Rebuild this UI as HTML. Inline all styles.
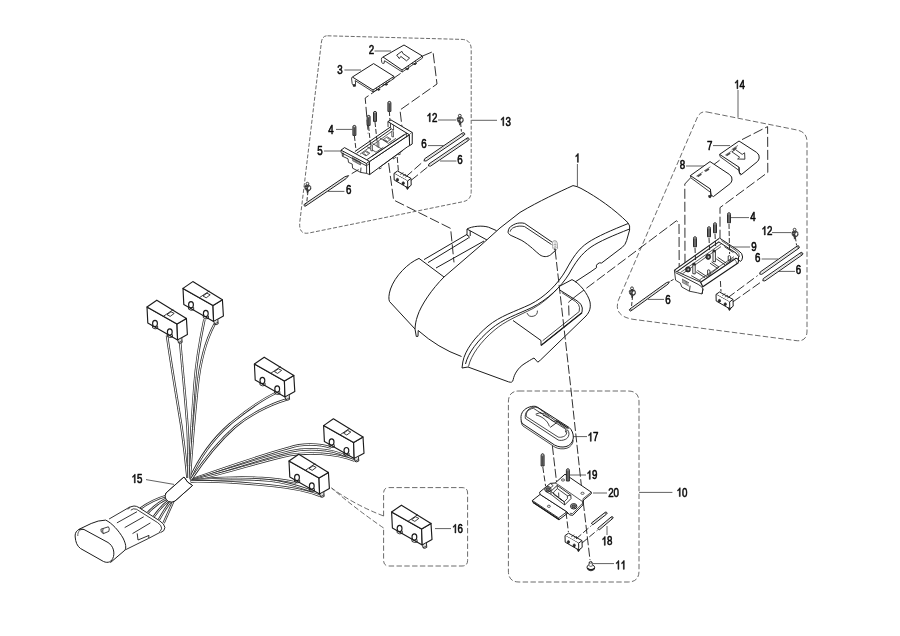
<!DOCTYPE html>
<html><head><meta charset="utf-8"><title>Parts diagram</title>
<style>
html,body{margin:0;padding:0;background:#fff;}
body{width:900px;height:636px;overflow:hidden;font-family:"Liberation Sans",sans-serif;}
svg{display:block;will-change:transform;font-family:"Liberation Sans",sans-serif;}
path{stroke-linejoin:round;}
</style></head><body>
<svg width="900" height="636" viewBox="0 0 900 636">
<rect x="0" y="0" width="900" height="636" fill="#ffffff"/>
<path d="M327.5,35.8 L462,39.4 Q471.2,39.8 471.2,49.4 L471.2,191.6 Q471.2,200 463,201.7 L309,233 Q298.5,235 299.8,222 L321.3,43 Q322,35.6 327.5,35.8Z" fill="none" stroke="#454545" stroke-width="0.8" stroke-dasharray="4 1.8" stroke-linecap="butt"/>
<path d="M707,112 L797,130 Q807,132 807,142 L807,331 Q807,342 796,340.6 L633,319.3 Q613,316 618.5,300 L697.5,117 Q700.5,110.8 707,112Z" fill="none" stroke="#454545" stroke-width="0.8" stroke-dasharray="5.4 2.4" stroke-linecap="butt"/>
<path d="M519,391 L628,391 Q639,391 639,402 L639,571 Q639,582 628,582 L519,582 Q508.4,582 508.4,571 L508.4,402 Q508.4,391 519,391Z" fill="none" stroke="#454545" stroke-width="0.8" stroke-dasharray="5.4 2.4" stroke-linecap="butt"/>
<path d="M383.6,516 L383.6,493 Q383.6,487.6 389,487.6 L462,487.6 Q467.6,487.6 467.6,493 L467.6,560.5 Q467.6,566 462,566 L389,566 Q383.6,566 383.6,560.5 L383.6,528" fill="none" stroke="#454545" stroke-width="0.8" stroke-dasharray="5.4 2.4" stroke-linecap="butt"/>
<path d="M383.6,516 Q355,505 331.5,488" fill="none" stroke="#454545" stroke-width="0.8" stroke-dasharray="5.4 2.4" stroke-linecap="butt"/>
<path d="M383.6,528 Q356,509 331.5,488" fill="none" stroke="#454545" stroke-width="0.8" stroke-dasharray="5.4 2.4" stroke-linecap="butt"/>
<g transform="translate(371.5,53.75) scale(0.8,1)" fill="#0a0a0a" stroke="#0a0a0a" stroke-linejoin="round"><text x="-3.39" y="0" font-size="12.2" stroke-width="0.6">2</text></g>
<path d="M374.5,51L391,51" fill="none" stroke="#3a3a3a" stroke-width="0.8" />
<g transform="translate(340,74.35) scale(0.8,1)" fill="#0a0a0a" stroke="#0a0a0a" stroke-linejoin="round"><text x="-3.39" y="0" font-size="12.2" stroke-width="0.6">3</text></g>
<path d="M344.4,70L361,70" fill="none" stroke="#3a3a3a" stroke-width="0.8" />
<g transform="translate(331,133.75) scale(0.8,1)" fill="#0a0a0a" stroke="#0a0a0a" stroke-linejoin="round"><text x="-3.39" y="0" font-size="12.2" stroke-width="0.6">4</text></g>
<path d="M336,129.4L352.4,129.4" fill="none" stroke="#3a3a3a" stroke-width="0.8" />
<g transform="translate(320,155.35) scale(0.8,1)" fill="#0a0a0a" stroke="#0a0a0a" stroke-linejoin="round"><text x="-3.39" y="0" font-size="12.2" stroke-width="0.6">5</text></g>
<path d="M324,151L341,151" fill="none" stroke="#3a3a3a" stroke-width="0.8" />
<g transform="translate(432,121.75) scale(0.8,1)" fill="#0a0a0a" stroke="#0a0a0a" stroke-linejoin="round"><path transform="translate(-6.78,0) scale(12.2,-12.2)" d="M0.3726,0 L0.2847,0 L0.2847,0.56 Q0.253,0.5298 0.2014,0.4995 Q0.15,0.469 0.109,0.454 L0.109,0.539 Q0.1826,0.5737 0.2378,0.623 Q0.293,0.672 0.316,0.71875 L0.3726,0.71875 Z" stroke-width="0.0492"/><text x="0.00" y="0" font-size="12.2" stroke-width="0.6">2</text></g>
<path d="M438,120L456,120" fill="none" stroke="#3a3a3a" stroke-width="0.8" />
<g transform="translate(424,147.75) scale(0.8,1)" fill="#0a0a0a" stroke="#0a0a0a" stroke-linejoin="round"><text x="-3.39" y="0" font-size="12.2" stroke-width="0.6">6</text></g>
<path d="M428,145.6L443.6,145.6" fill="none" stroke="#3a3a3a" stroke-width="0.8" />
<g transform="translate(460,163.95) scale(0.8,1)" fill="#0a0a0a" stroke="#0a0a0a" stroke-linejoin="round"><text x="-3.39" y="0" font-size="12.2" stroke-width="0.6">6</text></g>
<path d="M440,161L456.4,161" fill="none" stroke="#3a3a3a" stroke-width="0.8" />
<g transform="translate(348.6,194.35) scale(0.8,1)" fill="#0a0a0a" stroke="#0a0a0a" stroke-linejoin="round"><text x="-3.39" y="0" font-size="12.2" stroke-width="0.6">6</text></g>
<path d="M328,191.4L344.4,191.4" fill="none" stroke="#3a3a3a" stroke-width="0.8" />
<g transform="translate(505.5,125.64999999999999) scale(0.8,1)" fill="#0a0a0a" stroke="#0a0a0a" stroke-linejoin="round"><path transform="translate(-6.78,0) scale(12.2,-12.2)" d="M0.3726,0 L0.2847,0 L0.2847,0.56 Q0.253,0.5298 0.2014,0.4995 Q0.15,0.469 0.109,0.454 L0.109,0.539 Q0.1826,0.5737 0.2378,0.623 Q0.293,0.672 0.316,0.71875 L0.3726,0.71875 Z" stroke-width="0.0492"/><text x="0.00" y="0" font-size="12.2" stroke-width="0.6">3</text></g>
<path d="M471.6,120.3L497,120.3" fill="none" stroke="#3a3a3a" stroke-width="0.8" />
<g transform="translate(577.4,162.35) scale(0.8,1)" fill="#0a0a0a" stroke="#0a0a0a" stroke-linejoin="round"><path transform="translate(-3.39,0) scale(12.2,-12.2)" d="M0.3726,0 L0.2847,0 L0.2847,0.56 Q0.253,0.5298 0.2014,0.4995 Q0.15,0.469 0.109,0.454 L0.109,0.539 Q0.1826,0.5737 0.2378,0.623 Q0.293,0.672 0.316,0.71875 L0.3726,0.71875 Z" stroke-width="0.0492"/></g>
<path d="M577.4,164L577.4,186.2" fill="none" stroke="#3a3a3a" stroke-width="0.8" />
<g transform="translate(739.6,88.75) scale(0.8,1)" fill="#0a0a0a" stroke="#0a0a0a" stroke-linejoin="round"><path transform="translate(-6.78,0) scale(12.2,-12.2)" d="M0.3726,0 L0.2847,0 L0.2847,0.56 Q0.253,0.5298 0.2014,0.4995 Q0.15,0.469 0.109,0.454 L0.109,0.539 Q0.1826,0.5737 0.2378,0.623 Q0.293,0.672 0.316,0.71875 L0.3726,0.71875 Z" stroke-width="0.0492"/><text x="0.00" y="0" font-size="12.2" stroke-width="0.6">4</text></g>
<path d="M738,90L738,117.5" fill="none" stroke="#3a3a3a" stroke-width="0.8" />
<g transform="translate(709.6,149.95) scale(0.8,1)" fill="#0a0a0a" stroke="#0a0a0a" stroke-linejoin="round"><text x="-3.39" y="0" font-size="12.2" stroke-width="0.6">7</text></g>
<path d="M713,145.6L730,145.6" fill="none" stroke="#3a3a3a" stroke-width="0.8" />
<g transform="translate(682.4,169.35) scale(0.8,1)" fill="#0a0a0a" stroke="#0a0a0a" stroke-linejoin="round"><text x="-3.39" y="0" font-size="12.2" stroke-width="0.6">8</text></g>
<path d="M686,166L704,166" fill="none" stroke="#3a3a3a" stroke-width="0.8" />
<g transform="translate(753,221.35) scale(0.8,1)" fill="#0a0a0a" stroke="#0a0a0a" stroke-linejoin="round"><text x="-3.39" y="0" font-size="12.2" stroke-width="0.6">4</text></g>
<path d="M731,217.6L749,217.6" fill="none" stroke="#3a3a3a" stroke-width="0.8" />
<g transform="translate(767,234.95) scale(0.8,1)" fill="#0a0a0a" stroke="#0a0a0a" stroke-linejoin="round"><path transform="translate(-6.78,0) scale(12.2,-12.2)" d="M0.3726,0 L0.2847,0 L0.2847,0.56 Q0.253,0.5298 0.2014,0.4995 Q0.15,0.469 0.109,0.454 L0.109,0.539 Q0.1826,0.5737 0.2378,0.623 Q0.293,0.672 0.316,0.71875 L0.3726,0.71875 Z" stroke-width="0.0492"/><text x="0.00" y="0" font-size="12.2" stroke-width="0.6">2</text></g>
<path d="M772,232.6L791,232.6" fill="none" stroke="#3a3a3a" stroke-width="0.8" />
<g transform="translate(754,250.54999999999998) scale(0.8,1)" fill="#0a0a0a" stroke="#0a0a0a" stroke-linejoin="round"><text x="-3.39" y="0" font-size="12.2" stroke-width="0.6">9</text></g>
<path d="M733,247L750,247" fill="none" stroke="#3a3a3a" stroke-width="0.8" />
<g transform="translate(757.6,261.95000000000005) scale(0.8,1)" fill="#0a0a0a" stroke="#0a0a0a" stroke-linejoin="round"><text x="-3.39" y="0" font-size="12.2" stroke-width="0.6">6</text></g>
<path d="M761.6,259L778,259" fill="none" stroke="#3a3a3a" stroke-width="0.8" />
<g transform="translate(798.4,274.35) scale(0.8,1)" fill="#0a0a0a" stroke="#0a0a0a" stroke-linejoin="round"><text x="-3.39" y="0" font-size="12.2" stroke-width="0.6">6</text></g>
<path d="M778,271.4L795,271.4" fill="none" stroke="#3a3a3a" stroke-width="0.8" />
<g transform="translate(668,303.75) scale(0.8,1)" fill="#0a0a0a" stroke="#0a0a0a" stroke-linejoin="round"><text x="-3.39" y="0" font-size="12.2" stroke-width="0.6">6</text></g>
<path d="M648,299.4L664,299.4" fill="none" stroke="#3a3a3a" stroke-width="0.8" />
<g transform="translate(593,441.35) scale(0.8,1)" fill="#0a0a0a" stroke="#0a0a0a" stroke-linejoin="round"><path transform="translate(-6.78,0) scale(12.2,-12.2)" d="M0.3726,0 L0.2847,0 L0.2847,0.56 Q0.253,0.5298 0.2014,0.4995 Q0.15,0.469 0.109,0.454 L0.109,0.539 Q0.1826,0.5737 0.2378,0.623 Q0.293,0.672 0.316,0.71875 L0.3726,0.71875 Z" stroke-width="0.0492"/><text x="0.00" y="0" font-size="12.2" stroke-width="0.6">7</text></g>
<path d="M573,436.6L587,436.6" fill="none" stroke="#3a3a3a" stroke-width="0.8" />
<g transform="translate(592,479.35) scale(0.8,1)" fill="#0a0a0a" stroke="#0a0a0a" stroke-linejoin="round"><path transform="translate(-6.78,0) scale(12.2,-12.2)" d="M0.3726,0 L0.2847,0 L0.2847,0.56 Q0.253,0.5298 0.2014,0.4995 Q0.15,0.469 0.109,0.454 L0.109,0.539 Q0.1826,0.5737 0.2378,0.623 Q0.293,0.672 0.316,0.71875 L0.3726,0.71875 Z" stroke-width="0.0492"/><text x="0.00" y="0" font-size="12.2" stroke-width="0.6">9</text></g>
<path d="M570,475L586,475" fill="none" stroke="#3a3a3a" stroke-width="0.8" />
<g transform="translate(613.6,497.35) scale(0.8,1)" fill="#0a0a0a" stroke="#0a0a0a" stroke-linejoin="round"><text x="-6.78" y="0" font-size="12.2" stroke-width="0.6">2</text><text x="0.00" y="0" font-size="12.2" stroke-width="0.6">0</text></g>
<path d="M593,493L607,493" fill="none" stroke="#3a3a3a" stroke-width="0.8" />
<g transform="translate(682,496.55) scale(0.8,1)" fill="#0a0a0a" stroke="#0a0a0a" stroke-linejoin="round"><path transform="translate(-6.78,0) scale(12.2,-12.2)" d="M0.3726,0 L0.2847,0 L0.2847,0.56 Q0.253,0.5298 0.2014,0.4995 Q0.15,0.469 0.109,0.454 L0.109,0.539 Q0.1826,0.5737 0.2378,0.623 Q0.293,0.672 0.316,0.71875 L0.3726,0.71875 Z" stroke-width="0.0492"/><text x="0.00" y="0" font-size="12.2" stroke-width="0.6">0</text></g>
<path d="M639,492.4L672.4,492.4" fill="none" stroke="#3a3a3a" stroke-width="0.8" />
<g transform="translate(607,545.35) scale(0.8,1)" fill="#0a0a0a" stroke="#0a0a0a" stroke-linejoin="round"><path transform="translate(-6.78,0) scale(12.2,-12.2)" d="M0.3726,0 L0.2847,0 L0.2847,0.56 Q0.253,0.5298 0.2014,0.4995 Q0.15,0.469 0.109,0.454 L0.109,0.539 Q0.1826,0.5737 0.2378,0.623 Q0.293,0.672 0.316,0.71875 L0.3726,0.71875 Z" stroke-width="0.0492"/><text x="0.00" y="0" font-size="12.2" stroke-width="0.6">8</text></g>
<path d="M607,526L607,535" fill="none" stroke="#3a3a3a" stroke-width="0.8" />
<g transform="translate(620.6,569.35) scale(0.8,1)" fill="#0a0a0a" stroke="#0a0a0a" stroke-linejoin="round"><path transform="translate(-6.78,0) scale(12.2,-12.2)" d="M0.3726,0 L0.2847,0 L0.2847,0.56 Q0.253,0.5298 0.2014,0.4995 Q0.15,0.469 0.109,0.454 L0.109,0.539 Q0.1826,0.5737 0.2378,0.623 Q0.293,0.672 0.316,0.71875 L0.3726,0.71875 Z" stroke-width="0.0492"/><path transform="translate(0.00,0) scale(12.2,-12.2)" d="M0.3726,0 L0.2847,0 L0.2847,0.56 Q0.253,0.5298 0.2014,0.4995 Q0.15,0.469 0.109,0.454 L0.109,0.539 Q0.1826,0.5737 0.2378,0.623 Q0.293,0.672 0.316,0.71875 L0.3726,0.71875 Z" stroke-width="0.0492"/></g>
<path d="M593,563.6L614,563.6" fill="none" stroke="#3a3a3a" stroke-width="0.8" />
<g transform="translate(137,482.95000000000005) scale(0.8,1)" fill="#0a0a0a" stroke="#0a0a0a" stroke-linejoin="round"><path transform="translate(-6.78,0) scale(12.2,-12.2)" d="M0.3726,0 L0.2847,0 L0.2847,0.56 Q0.253,0.5298 0.2014,0.4995 Q0.15,0.469 0.109,0.454 L0.109,0.539 Q0.1826,0.5737 0.2378,0.623 Q0.293,0.672 0.316,0.71875 L0.3726,0.71875 Z" stroke-width="0.0492"/><text x="0.00" y="0" font-size="12.2" stroke-width="0.6">5</text></g>
<path d="M146,479.6L174,484.4" fill="none" stroke="#3a3a3a" stroke-width="0.8" />
<g transform="translate(457.6,532.95) scale(0.8,1)" fill="#0a0a0a" stroke="#0a0a0a" stroke-linejoin="round"><path transform="translate(-6.78,0) scale(12.2,-12.2)" d="M0.3726,0 L0.2847,0 L0.2847,0.56 Q0.253,0.5298 0.2014,0.4995 Q0.15,0.469 0.109,0.454 L0.109,0.539 Q0.1826,0.5737 0.2378,0.623 Q0.293,0.672 0.316,0.71875 L0.3726,0.71875 Z" stroke-width="0.0492"/><text x="0.00" y="0" font-size="12.2" stroke-width="0.6">6</text></g>
<path d="M435,528.6L451,528.6" fill="none" stroke="#3a3a3a" stroke-width="0.8" />
<path d="M573,185.6 Q577,186.2 581,188.4 C598,197.6 614,209 628,222.8" fill="none" stroke="#1c1c1c" stroke-width="1.0" />
<path d="M573,185.6 C558,192.5 540,200.6 520,212.4 L500,228 L480,246 L444,277 C432,289 421,305 417.5,316 C415.8,321 415.2,325 415,329" fill="none" stroke="#1c1c1c" stroke-width="1.0" />
<path d="M628,222.8 Q630.4,225.6 629.6,230 L626.6,240.6 Q625.4,244.8 622.4,247.2" fill="none" stroke="#1c1c1c" stroke-width="1.0" />
<path d="M622.4,247.2 L601.6,263 Q599.4,262.2 597.4,264 Q595.6,265.8 596.6,267.6 L591,271.6 L575,282" fill="none" stroke="#1c1c1c" stroke-width="1.0" />
<path d="M628,223.6 C612,230 597,236.5 588,242.5 C578,249 572,259 566,270 C558,284 545,297 530,304.5 C515,311.5 500,316 488,326 C475,337 465,350 462.8,362 L462,368" fill="none" stroke="#1c1c1c" stroke-width="1.0" />
<path d="M629.6,229 C613,235.5 599,241.5 591,247 C581,254 575,263 569,274 C561,287 547,300 532,307.5 C517,314.5 503,319 491,329 C478,340 468,353 465.5,364" fill="none" stroke="#1c1c1c" stroke-width="1.0" />
<path d="M560,286 C552,295 543,303 533,308.5 C518,316 505,321 494,330.5 C481,341.5 471,355 468.5,366.5" fill="none" stroke="#1c1c1c" stroke-width="0.8" />
<path d="M419,258.4 C408,263 395,276 390.5,289 C388.6,295 388.5,299 389.5,301.5 L415,329" fill="none" stroke="#1c1c1c" stroke-width="1.0" />
<path d="M419,258.4 L444,277" fill="none" stroke="#1c1c1c" stroke-width="1.0" />
<path d="M415,329 L416.3,336.5 L418,336.3 L418.2,330.5" fill="none" stroke="#1c1c1c" stroke-width="1.0" />
<path d="M418.2,330.5 Q438,348 461.5,356.5" fill="none" stroke="#1c1c1c" stroke-width="1.0" />
<path d="M462,368 L468,367 L508.4,381.8 Q512.6,383.4 513.2,379.6 C514.2,374 518.4,367.6 524,364 C528,361.5 531,359.5 534,358 L537.8,362.2 L540.5,360 L586,316 C589.5,312 591,308 590,302 C588,294 580,283.5 572,279.6 L560,286" fill="none" stroke="#1c1c1c" stroke-width="1.0" />
<path d="M559.4,289.8 L577,300.8 Q582.4,304.4 582.3,308 L582,312.6 L541,345.5 L541,340.5" fill="none" stroke="#1c1c1c" stroke-width="1.0" />
<path d="M561.8,292.6 L575.4,301.4 Q579.6,304.4 579.5,307.6 L579.2,311.6 L542.6,340.8" fill="none" stroke="#1c1c1c" stroke-width="0.8" />
<path d="M541.3,345.3 L582,312.8" fill="none" stroke="#1c1c1c" stroke-width="1.3" />
<path d="M513,320.5 L541,340.5" fill="none" stroke="#1c1c1c" stroke-width="1.0" />
<path d="M527,313 A5.4,5.4 0 0 0 537.4,310.6" fill="none" stroke="#1c1c1c" stroke-width="0.8" />
<path d="M508,232.2 C508.4,228.6 510,226.6 512,225.7 C514.4,224 517,223.2 519.2,223 C521.4,222.8 523,223 524.6,223.4 L552.3,242.3" fill="none" stroke="#1c1c1c" stroke-width="1.0" />
<path d="M508,232.2 C508.6,234 509.6,234.8 511.1,235.5 C515,237.4 518.4,238.6 521.9,240.5 C526,243 529.4,245.8 532.6,248.5 C535,250.6 537.4,253 539.8,254.8 C541.6,256 543.4,256.6 545.2,256.6 C547.2,256.6 549,256 550.6,254.8 L555.6,250.4" fill="none" stroke="#1c1c1c" stroke-width="1.0" />
<path d="M510.2,231.6 C510.6,229.6 512,228.2 513.8,227.5 C515.6,226.6 517.4,226.2 519.2,226.1 C521.2,226 523,226.2 524.6,226.6 L551.5,244.5" fill="none" stroke="#1c1c1c" stroke-width="0.9" />
<path d="M552.6,243.4 Q552,241 554.4,240.6 Q557,240.4 557.2,243 L557.6,248.4 Q556.4,250.4 554.2,249.6 Q552.4,248.6 552.6,246.4 Z" fill="#fff" stroke="#8a8a8a" stroke-width="0.8" />
<path d="M553.4,245 Q555,243.6 556.8,245 M553.6,247.4 Q555.2,246.2 557,247.4 M555,241 L555.2,249.4" fill="none" stroke="#999" stroke-width="0.7" />
<path d="M554.4,248.6 L555.8,250.6" fill="none" stroke="#333" stroke-width="1.2" />
<path d="M424,259.6L467,234.4" fill="none" stroke="#1c1c1c" stroke-width="1.0" />
<path d="M428,262.6L468.4,238" fill="none" stroke="#1c1c1c" stroke-width="1.0" />
<path d="M436,268L484,241" fill="none" stroke="#1c1c1c" stroke-width="1.0" />
<path d="M467,229 L467,235.2 L469,236.3 L469,238.3 M467,229 L470.2,230.8 L470.2,236 M467,229 C472,226.2 482,225.2 488.5,227.2 L496.5,230.6 M470.2,230.8 L487,240" fill="none" stroke="#1c1c1c" stroke-width="1.0" />
<path d="M331,447.6 C318,443 300,444 290,447.5 C262,455 225,468 190,480" fill="none" stroke="#2e2e2e" stroke-width="2.5" />
<path d="M331,447.6 C318,443 300,444 290,447.5 C262,455 225,468 190,480" fill="none" stroke="#fff" stroke-width="1.0" />
<path d="M346,456 C330,448 305,448 290,451.5 C262,458 228,470 190.6,480.4" fill="none" stroke="#2e2e2e" stroke-width="2.5" />
<path d="M346,456 C330,448 305,448 290,451.5 C262,458 228,470 190.6,480.4" fill="none" stroke="#fff" stroke-width="1.0" />
<path d="M354.6,460.6 C335,453 308,452 290,455 C262,461 230,472 191,480.8" fill="none" stroke="#2e2e2e" stroke-width="2.5" />
<path d="M354.6,460.6 C335,453 308,452 290,455 C262,461 230,472 191,480.8" fill="none" stroke="#fff" stroke-width="1.0" />
<path d="M296.4,482.6 C285,480 272,478.6 262,478 C240,477 215,477.6 190.5,480.6" fill="none" stroke="#2e2e2e" stroke-width="2.5" />
<path d="M296.4,482.6 C285,480 272,478.6 262,478 C240,477 215,477.6 190.5,480.6" fill="none" stroke="#fff" stroke-width="1.0" />
<path d="M311.4,491 C298,486 282,482 270,480.6 C245,478 218,478.6 190.5,481" fill="none" stroke="#2e2e2e" stroke-width="2.5" />
<path d="M311.4,491 C298,486 282,482 270,480.6 C245,478 218,478.6 190.5,481" fill="none" stroke="#fff" stroke-width="1.0" />
<path d="M320,495.8 C305,490 285,487 270,485.6 C245,483 218,481 190.8,481.4" fill="none" stroke="#2e2e2e" stroke-width="2.5" />
<path d="M320,495.8 C305,490 285,487 270,485.6 C245,483 218,481 190.8,481.4" fill="none" stroke="#fff" stroke-width="1.0" />
<path d="M275.6,393 C255,403 240,416 230,424 C215,437 200,456 190,479" fill="none" stroke="#2e2e2e" stroke-width="2.5" />
<path d="M275.6,393 C255,403 240,416 230,424 C215,437 200,456 190,479" fill="none" stroke="#fff" stroke-width="1.0" />
<path d="M286.5,399.5 C268,405 248,416 235,427 C219,441 204,460 191,479.6" fill="none" stroke="#2e2e2e" stroke-width="2.5" />
<path d="M286.5,399.5 C268,405 248,416 235,427 C219,441 204,460 191,479.6" fill="none" stroke="#fff" stroke-width="1.0" />
<path d="M204.4,319.5 C199,345 196,365 194.5,385 C192.5,410 190.5,440 189,478" fill="none" stroke="#2e2e2e" stroke-width="2.5" />
<path d="M204.4,319.5 C199,345 196,365 194.5,385 C192.5,410 190.5,440 189,478" fill="none" stroke="#fff" stroke-width="1.0" />
<path d="M214.6,324 C206,340 200,362 197.5,387 C195,412 192,445 189.8,478" fill="none" stroke="#2e2e2e" stroke-width="2.5" />
<path d="M214.6,324 C206,340 200,362 197.5,387 C195,412 192,445 189.8,478" fill="none" stroke="#fff" stroke-width="1.0" />
<path d="M167,335.5 C172,370 178,405 181.5,427 C184,445 186,462 187.5,478" fill="none" stroke="#2e2e2e" stroke-width="2.5" />
<path d="M167,335.5 C172,370 178,405 181.5,427 C184,445 186,462 187.5,478" fill="none" stroke="#fff" stroke-width="1.0" />
<path d="M180.2,342.5 C183,375 186,405 187.5,427 C188.5,445 188.5,462 188.3,478" fill="none" stroke="#2e2e2e" stroke-width="2.5" />
<path d="M180.2,342.5 C183,375 186,405 187.5,427 C188.5,445 188.5,462 188.3,478" fill="none" stroke="#fff" stroke-width="1.0" />
<path d="M147.0,307.0 L177.0,324.0 L177.6,340.0 L147.8,323.0 Z" fill="#fff" stroke="#1c1c1c" stroke-width="1.15" />
<path d="M186.4,318.4 L187.4,334.6 L177.6,340.0 L177.0,324.0 Z" fill="#fff" stroke="#1c1c1c" stroke-width="1.15" />
<path d="M147.0,307.0 L156.8,300.2 L186.4,318.4 L177.0,324.0 Z" fill="#fff" stroke="#1c1c1c" stroke-width="1.15" />
<path d="M163.5,316.2 L173.3,309.6" fill="none" stroke="#1c1c1c" stroke-width="0.85" />
<path d="M167.0,314.6 L171.0,311.8 L174.2,313.4 L170.2,316.4 Z" fill="none" stroke="#1c1c1c" stroke-width="0.85" />
<path d="M152.4,325.0 L152.6,327.8 Q155.0,329.6 157.7,328.4 L157.6,325.8" fill="none" stroke="#1c1c1c" stroke-width="0.9" />
<ellipse cx="155.0" cy="323.4" rx="2.4" ry="3.1" fill="#fff" stroke="#1c1c1c" stroke-width="1.15"/>
<path d="M167.2,333.6 L167.4,336.4 Q169.8,338.2 172.5,337.0 L172.4,334.4" fill="none" stroke="#1c1c1c" stroke-width="0.9" />
<ellipse cx="169.8" cy="332.0" rx="2.4" ry="3.1" fill="#fff" stroke="#1c1c1c" stroke-width="1.15"/>
<path d="M178.0,340.4 L178.4,342.8 Q180.0,344.0 182.2,342.4 L181.8,338.0" fill="#ddd" stroke="#1c1c1c" stroke-width="0.9" />
<path d="M178.4,342.8 L182.0,340.8" fill="none" stroke="#1c1c1c" stroke-width="0.7" />
<path d="M183.0,288.4 L213.0,305.4 L213.6,321.4 L183.8,304.4 Z" fill="#fff" stroke="#1c1c1c" stroke-width="1.15" />
<path d="M222.4,299.8 L223.4,316.0 L213.6,321.4 L213.0,305.4 Z" fill="#fff" stroke="#1c1c1c" stroke-width="1.15" />
<path d="M183.0,288.4 L192.8,281.6 L222.4,299.8 L213.0,305.4 Z" fill="#fff" stroke="#1c1c1c" stroke-width="1.15" />
<path d="M199.5,297.6 L209.3,291.0" fill="none" stroke="#1c1c1c" stroke-width="0.85" />
<path d="M203.0,296.0 L207.0,293.2 L210.2,294.8 L206.2,297.8 Z" fill="none" stroke="#1c1c1c" stroke-width="0.85" />
<path d="M188.4,306.4 L188.6,309.2 Q191.0,311.0 193.7,309.8 L193.6,307.2" fill="none" stroke="#1c1c1c" stroke-width="0.9" />
<ellipse cx="191.0" cy="304.8" rx="2.4" ry="3.1" fill="#fff" stroke="#1c1c1c" stroke-width="1.15"/>
<path d="M203.2,315.0 L203.4,317.8 Q205.8,319.6 208.5,318.4 L208.4,315.8" fill="none" stroke="#1c1c1c" stroke-width="0.9" />
<ellipse cx="205.8" cy="313.4" rx="2.4" ry="3.1" fill="#fff" stroke="#1c1c1c" stroke-width="1.15"/>
<path d="M214.0,321.8 L214.4,324.2 Q216.0,325.4 218.2,323.8 L217.8,319.4" fill="#ddd" stroke="#1c1c1c" stroke-width="0.9" />
<path d="M214.4,324.2 L218.0,322.2" fill="none" stroke="#1c1c1c" stroke-width="0.7" />
<path d="M254.4,364.0 L284.4,381.0 L285.0,397.0 L255.2,380.0 Z" fill="#fff" stroke="#1c1c1c" stroke-width="1.15" />
<path d="M293.8,375.4 L294.8,391.6 L285.0,397.0 L284.4,381.0 Z" fill="#fff" stroke="#1c1c1c" stroke-width="1.15" />
<path d="M254.4,364.0 L264.2,357.2 L293.8,375.4 L284.4,381.0 Z" fill="#fff" stroke="#1c1c1c" stroke-width="1.15" />
<path d="M270.9,373.2 L280.7,366.6" fill="none" stroke="#1c1c1c" stroke-width="0.85" />
<path d="M274.4,371.6 L278.4,368.8 L281.6,370.4 L277.6,373.4 Z" fill="none" stroke="#1c1c1c" stroke-width="0.85" />
<path d="M259.8,382.0 L260.0,384.8 Q262.4,386.6 265.1,385.4 L265.0,382.8" fill="none" stroke="#1c1c1c" stroke-width="0.9" />
<ellipse cx="262.4" cy="380.4" rx="2.4" ry="3.1" fill="#fff" stroke="#1c1c1c" stroke-width="1.15"/>
<path d="M274.6,390.6 L274.8,393.4 Q277.2,395.2 279.9,394.0 L279.8,391.4" fill="none" stroke="#1c1c1c" stroke-width="0.9" />
<ellipse cx="277.2" cy="389.0" rx="2.4" ry="3.1" fill="#fff" stroke="#1c1c1c" stroke-width="1.15"/>
<path d="M285.4,397.4 L285.8,399.8 Q287.4,401.0 289.6,399.4 L289.2,395.0" fill="#ddd" stroke="#1c1c1c" stroke-width="0.9" />
<path d="M285.8,399.8 L289.4,397.8" fill="none" stroke="#1c1c1c" stroke-width="0.7" />
<path d="M323.6,425.6 L353.6,442.6 L354.2,458.6 L324.4,441.6 Z" fill="#fff" stroke="#1c1c1c" stroke-width="1.15" />
<path d="M363.0,437.0 L364.0,453.2 L354.2,458.6 L353.6,442.6 Z" fill="#fff" stroke="#1c1c1c" stroke-width="1.15" />
<path d="M323.6,425.6 L333.4,418.8 L363.0,437.0 L353.6,442.6 Z" fill="#fff" stroke="#1c1c1c" stroke-width="1.15" />
<path d="M340.1,434.8 L349.9,428.2" fill="none" stroke="#1c1c1c" stroke-width="0.85" />
<path d="M343.6,433.2 L347.6,430.4 L350.8,432.0 L346.8,435.0 Z" fill="none" stroke="#1c1c1c" stroke-width="0.85" />
<path d="M329.0,443.6 L329.2,446.4 Q331.6,448.2 334.3,447.0 L334.2,444.4" fill="none" stroke="#1c1c1c" stroke-width="0.9" />
<ellipse cx="331.6" cy="442.0" rx="2.4" ry="3.1" fill="#fff" stroke="#1c1c1c" stroke-width="1.15"/>
<path d="M343.8,452.2 L344.0,455.0 Q346.4,456.8 349.1,455.6 L349.0,453.0" fill="none" stroke="#1c1c1c" stroke-width="0.9" />
<ellipse cx="346.4" cy="450.6" rx="2.4" ry="3.1" fill="#fff" stroke="#1c1c1c" stroke-width="1.15"/>
<path d="M354.6,459.0 L355.0,461.4 Q356.6,462.6 358.8,461.0 L358.4,456.6" fill="#ddd" stroke="#1c1c1c" stroke-width="0.9" />
<path d="M355.0,461.4 L358.6,459.4" fill="none" stroke="#1c1c1c" stroke-width="0.7" />
<path d="M289.0,461.0 L319.0,478.0 L319.6,494.0 L289.8,477.0 Z" fill="#fff" stroke="#1c1c1c" stroke-width="1.15" />
<path d="M328.4,472.4 L329.4,488.6 L319.6,494.0 L319.0,478.0 Z" fill="#fff" stroke="#1c1c1c" stroke-width="1.15" />
<path d="M289.0,461.0 L298.8,454.2 L328.4,472.4 L319.0,478.0 Z" fill="#fff" stroke="#1c1c1c" stroke-width="1.15" />
<path d="M305.5,470.2 L315.3,463.6" fill="none" stroke="#1c1c1c" stroke-width="0.85" />
<path d="M309.0,468.6 L313.0,465.8 L316.2,467.4 L312.2,470.4 Z" fill="none" stroke="#1c1c1c" stroke-width="0.85" />
<path d="M294.4,479.0 L294.6,481.8 Q297.0,483.6 299.7,482.4 L299.6,479.8" fill="none" stroke="#1c1c1c" stroke-width="0.9" />
<ellipse cx="297.0" cy="477.4" rx="2.4" ry="3.1" fill="#fff" stroke="#1c1c1c" stroke-width="1.15"/>
<path d="M309.2,487.6 L309.4,490.4 Q311.8,492.2 314.5,491.0 L314.4,488.4" fill="none" stroke="#1c1c1c" stroke-width="0.9" />
<ellipse cx="311.8" cy="486.0" rx="2.4" ry="3.1" fill="#fff" stroke="#1c1c1c" stroke-width="1.15"/>
<path d="M320.0,494.4 L320.4,496.8 Q322.0,498.0 324.2,496.4 L323.8,492.0" fill="#ddd" stroke="#1c1c1c" stroke-width="0.9" />
<path d="M320.4,496.8 L324.0,494.8" fill="none" stroke="#1c1c1c" stroke-width="0.7" />
<path d="M391.6,512.0 L421.6,529.0 L422.2,545.0 L392.4,528.0 Z" fill="#fff" stroke="#1c1c1c" stroke-width="1.15" />
<path d="M431.0,523.4 L432.0,539.6 L422.2,545.0 L421.6,529.0 Z" fill="#fff" stroke="#1c1c1c" stroke-width="1.15" />
<path d="M391.6,512.0 L401.4,505.2 L431.0,523.4 L421.6,529.0 Z" fill="#fff" stroke="#1c1c1c" stroke-width="1.15" />
<path d="M408.1,521.2 L417.9,514.6" fill="none" stroke="#1c1c1c" stroke-width="0.85" />
<path d="M411.6,519.6 L415.6,516.8 L418.8,518.4 L414.8,521.4 Z" fill="none" stroke="#1c1c1c" stroke-width="0.85" />
<path d="M397.0,530.0 L397.2,532.8 Q399.6,534.6 402.3,533.4 L402.2,530.8" fill="none" stroke="#1c1c1c" stroke-width="0.9" />
<ellipse cx="399.6" cy="528.4" rx="2.4" ry="3.1" fill="#fff" stroke="#1c1c1c" stroke-width="1.15"/>
<path d="M411.8,538.6 L412.0,541.4 Q414.4,543.2 417.1,542.0 L417.0,539.4" fill="none" stroke="#1c1c1c" stroke-width="0.9" />
<ellipse cx="414.4" cy="537.0" rx="2.4" ry="3.1" fill="#fff" stroke="#1c1c1c" stroke-width="1.15"/>
<path d="M422.6,545.4 L423.0,547.8 Q424.6,549.0 426.8,547.4 L426.4,543.0" fill="#ddd" stroke="#1c1c1c" stroke-width="0.9" />
<path d="M423.0,547.8 L426.6,545.8" fill="none" stroke="#1c1c1c" stroke-width="0.7" />
<path d="M184,477 L166,493 Q163.5,498.5 168.5,501.5 Q172,503 175,501 L192.5,485.5 Q187,483 184,477Z" fill="#fff" stroke="#1c1c1c" stroke-width="1.0" />
<path d="M167,495.6 Q152,500 140.5,508.5" fill="none" stroke="#2e2e2e" stroke-width="2.4" />
<path d="M167,495.6 Q152,500 140.5,508.5" fill="none" stroke="#fff" stroke-width="0.8999999999999999" />
<path d="M168.6,497.6 Q157,503 148,512.6" fill="none" stroke="#2e2e2e" stroke-width="2.4" />
<path d="M168.6,497.6 Q157,503 148,512.6" fill="none" stroke="#fff" stroke-width="0.8999999999999999" />
<path d="M170,499.4 Q162,505 154,516.4" fill="none" stroke="#2e2e2e" stroke-width="2.4" />
<path d="M170,499.4 Q162,505 154,516.4" fill="none" stroke="#fff" stroke-width="0.8999999999999999" />
<path d="M171.6,500.4 Q166,507 159,519.6" fill="none" stroke="#2e2e2e" stroke-width="2.4" />
<path d="M171.6,500.4 Q166,507 159,519.6" fill="none" stroke="#fff" stroke-width="0.8999999999999999" />
<path d="M173.4,501 Q170,509 163.6,523" fill="none" stroke="#2e2e2e" stroke-width="2.4" />
<path d="M173.4,501 Q170,509 163.6,523" fill="none" stroke="#fff" stroke-width="0.8999999999999999" />
<path d="M184,477 L166,493 Q163.5,498.5 168.5,501.5 Q172,503 175,501 L192.5,485.5 Q187,483 184,477Z" fill="#fff" stroke="#1c1c1c" stroke-width="1.0" />
<path d="M109.1,519 L130.3,506.7 M116.9,522.9 L137,511.7 M124.7,527.6 L143.7,516.8 M132.5,533.6 L150.4,522.9" fill="none" stroke="#1c1c1c" stroke-width="0.9" />
<path d="M125.4,549.8 L148.6,538.4 L149,535.4 L138,540 L137.2,533.4 M149,538.2 L160.4,532.2" fill="none" stroke="#1c1c1c" stroke-width="0.9" />
<path d="M128,509.4 Q130,506 134,506 Q136.6,506 139,507.6 L159.4,520.6 Q164.6,524 164.9,527.4 Q165,531 160.6,532.6" fill="none" stroke="#1c1c1c" stroke-width="0.95" />
<path d="M130.8,510.2 Q133,508 136.4,509.2 L157.6,522.6 Q161.6,525.2 161.6,528.2 Q161.4,530.6 159.4,531.6" fill="none" stroke="#1c1c1c" stroke-width="0.85" />
<path d="M78.4,529.6 L91.2,523.5 Q98,520.3 105.7,520.1 C112,523 119,531 123,538 C126,544 126.4,548 124.9,550.2 L110.4,562.6" fill="none" stroke="#1c1c1c" stroke-width="1.0" />
<path d="M75.2,537 C74.5,531.5 78.5,528 84,529.5 L108,542.5 C113.5,546 114.5,552 113.5,556.5 C112,562 108,563.5 103.5,561.5 L80.5,548.5 C77,546 75.6,542 75.2,537Z" fill="#fff" stroke="#1c1c1c" stroke-width="1.0" />
<path d="M84,529.5 C80,528.8 77.5,531.5 77.8,536" fill="none" stroke="#1c1c1c" stroke-width="0.7" />
<path d="M100.9,529.2 L108.4,526.8 Q110,528.6 108.8,531.4 L103.4,533.6 Q100.4,532.4 100.9,529.2 Z M103.4,533.6 Q102,531 103.2,528.6" fill="#fff" stroke="#1c1c1c" stroke-width="0.85" />
<path d="M404,45 L422.4,56 L402,70 L383,57 Z" fill="#fff" stroke="#1c1c1c" stroke-width="1.0" />
<path d="M422.4,56 L422.6,58 L402.2,72 L402,70 M402.2,72 L385,61" fill="none" stroke="#1c1c1c" stroke-width="0.85" />
<path d="M383,57 Q381.2,57.6 381.4,59.4 L381.8,62.6 Q382.6,64 384.2,63.2 L384.4,60.8 L385,61" fill="none" stroke="#1c1c1c" stroke-width="0.85" />
<path d="M406,68.9 Q407.4,70.6 409,68.5 Z M413.6,63.9 Q415,65.6 416.6,63.5 Z" fill="#333" stroke="#1c1c1c" stroke-width="0.8" />
<path d="M405.6,67 L405.8,69.2 M408.4,65.2 L408.6,67.4 M412.4,62.4 L412.6,64.6 M415.4,60.4 L415.6,62.6" fill="none" stroke="#1c1c1c" stroke-width="0.6" />
<path d="M396.7,55.1 L401.9,51.3 L402.9,53.5 L409.6,58.1 L406.5,60.8 L400.8,56.4 L399.3,58.6 Z" fill="none" stroke="#1c1c1c" stroke-width="0.9" />
<path d="M373.6,63.6 L394,76.4 L373,90 L352.4,77 Z" fill="#fff" stroke="#1c1c1c" stroke-width="1.0" />
<path d="M394,76.4 L394.2,78.4 L373.2,92 L373,90 M373.2,92 L355.2,80.6" fill="none" stroke="#1c1c1c" stroke-width="0.85" />
<path d="M352.4,77 Q351.4,77.6 351.6,79 L352.2,83.6 Q352.6,85.4 354.4,85.2 Q355.8,84.8 355.6,83 L355.2,80.6" fill="none" stroke="#1c1c1c" stroke-width="0.85" />
<path d="M353.2,84.8 L353.4,86.4 L355.6,86.2 L355.4,84.6 Z" fill="#333" stroke="#1c1c1c" stroke-width="0.7" />
<path d="M377.2,89.6 Q378.6,91.4 380.2,89.2 Z M384.8,84.5 Q386.2,86.2 387.8,84.1 Z" fill="#333" stroke="#1c1c1c" stroke-width="0.8" />
<path d="M376.4,87.6 L376.6,89.8 M379.2,85.8 L379.4,88 M383.2,83.2 L383.4,85.4 M386.2,81.2 L386.4,83.4" fill="none" stroke="#1c1c1c" stroke-width="0.6" />
<path d="M422.6,56 L433,51.6 L437,84 L400,110 L402,127" fill="none" stroke="#262626" stroke-width="0.95" stroke-dasharray="10 3" stroke-linecap="butt"/>
<path d="M400.6,73.4 L365.2,98 L369,142" fill="none" stroke="#262626" stroke-width="0.95" stroke-dasharray="10 3" stroke-linecap="butt"/>
<path d="M369.4,161.6 L409.3,134.8 L409.6,145.6 L407.3,146.9 L369.6,174.6 Z" fill="#fff" stroke="#1c1c1c" stroke-width="1.0" />
<path d="M379.6,167.3 L402.6,150.8" fill="none" stroke="#1c1c1c" stroke-width="0.7" />
<path d="M379.4,167.6 L379.6,169 L381.6,167.8 M393.2,157.6 L393.4,159 L396,157.2 M398.6,153.8 L398.8,155 L401,153.6" fill="none" stroke="#1c1c1c" stroke-width="0.7" />
<path d="M390.9,119.9 L412.3,132.5 L369.4,161.6 L344.5,147.6 Z" fill="#fff" stroke="#1c1c1c" stroke-width="0" />
<path d="M387.9,121.6 L390.9,119.9 L412.3,132.5 L409.3,134.7 Z" fill="#fff" stroke="#1c1c1c" stroke-width="1.0" />
<path d="M387.9,121.6 L388.1,127 M390.4,123.1 L390.6,128.4" fill="none" stroke="#1c1c1c" stroke-width="0.85" />
<path d="M390.6,128.4 L394,130.4 M393.4,124.9 L393.6,130 M406.4,133 L406.5,137.4" fill="none" stroke="#1c1c1c" stroke-width="0.7" />
<path d="M412.3,132.5 L412.2,144 L409.6,145.6 L409.3,134.7" fill="#fff" stroke="#1c1c1c" stroke-width="1.0" />
<path d="M409.3,134.7 L369.4,161.6 M406.7,133.3 L367,159.6" fill="none" stroke="#1c1c1c" stroke-width="1.0" />
<path d="M404.4,134.4 L372,156.2" fill="none" stroke="#1c1c1c" stroke-width="0.7" />
<path d="M390,127.3 L354.9,151.5 M391.3,129 L356.6,153.3" fill="none" stroke="#1c1c1c" stroke-width="1.0" />
<path d="M391.9,131.3 L360,154.2" fill="none" stroke="#1c1c1c" stroke-width="0.7" />
<path d="M383.2,139.6 L387.2,136.8 L391,139.2 L387,142 Z M384.6,139.7 L387.2,141.2 M387.2,138 L389.6,139.4" fill="none" stroke="#1c1c1c" stroke-width="0.7" />
<path d="M362.4,153.6 L366.2,150.9 L369.8,153.2 L366,155.9 Z M363.8,153.7 L366.2,155.1 M366.2,152 L368.4,153.3" fill="none" stroke="#1c1c1c" stroke-width="0.7" />
<path d="M379.8,138 L388.4,143.4 M372.4,143.4 L381.4,148.8 M367.2,146.8 L376,152.2 M376,152.2 L383.4,147.2 M388.4,143.4 L396,138.3" fill="none" stroke="#1c1c1c" stroke-width="0.7" />
<path d="M377.2,141.4 L377.2,146.8 L378.8,147.20000000000002 L378.8,141.8 Q378,140.6 377.2,141.4" fill="#fff" stroke="#1c1c1c" stroke-width="0.7" />
<path d="M370.8,145.2 L370.8,150.6 L372.40000000000003,151.0 L372.40000000000003,145.6 Q371.6,144.39999999999998 370.8,145.2" fill="#fff" stroke="#1c1c1c" stroke-width="0.7" />
<path d="M391.8,131.2 L391.8,136.6 L393.40000000000003,137.0 L393.40000000000003,131.6 Q392.6,130.39999999999998 391.8,131.2" fill="#fff" stroke="#1c1c1c" stroke-width="0.7" />
<path d="M341,150.2 L344.5,147.6 L369.4,161.3 L366.4,163.5 Z" fill="#fff" stroke="#1c1c1c" stroke-width="1.0" />
<path d="M341,150.2 L341.1,152.6 L366.4,165.8 L366.4,163.5 M366.4,165.8 L369.4,163.6" fill="none" stroke="#1c1c1c" stroke-width="0.85" />
<path d="M342.2,153.2 L342.4,156.2 L348,158.8 L348.5,162.4 L352.2,164 L352.6,168.2 L360.6,172.4 L361,167.6 M360.6,172.4 L366.6,173.4 L369.6,174.6 M366.6,166 L366.6,173.4 M369.4,163.6 L369.6,174.6" fill="none" stroke="#1c1c1c" stroke-width="0.85" />
<path d="M342.2,153.2 L343.4,152.9 L343.6,155.6 L342.4,156.2" fill="none" stroke="#1c1c1c" stroke-width="0.6" />
<path d="M352.6,157.8L352.8,160.6" fill="none" stroke="#1c1c1c" stroke-width="0.6" />
<path d="M353.90000000000003,158.52L354.1,161.32" fill="none" stroke="#1c1c1c" stroke-width="0.6" />
<path d="M355.20000000000005,159.24L355.40000000000003,162.04" fill="none" stroke="#1c1c1c" stroke-width="0.6" />
<path d="M356.5,159.96L356.7,162.76" fill="none" stroke="#1c1c1c" stroke-width="0.6" />
<path d="M357.8,160.68L358.0,163.48" fill="none" stroke="#1c1c1c" stroke-width="0.6" />
<path d="M359.1,161.4L359.3,164.2" fill="none" stroke="#1c1c1c" stroke-width="0.6" />
<path d="M352,157.4 L360.4,162 L360.6,165 L352.4,160.6" fill="none" stroke="#1c1c1c" stroke-width="0.6" />
<path d="M389.4,112 L390,121" fill="none" stroke="#262626" stroke-width="0.95" stroke-dasharray="4 2" stroke-linecap="butt"/>
<path d="M375,122 L377,141" fill="none" stroke="#262626" stroke-width="0.95" stroke-dasharray="5 2" stroke-linecap="butt"/>
<path d="M368.6,126 L370.6,146" fill="none" stroke="#262626" stroke-width="0.95" stroke-dasharray="5 2" stroke-linecap="butt"/>
<path d="M354.4,136 L356,150" fill="none" stroke="#262626" stroke-width="0.95" stroke-dasharray="5 2" stroke-linecap="butt"/>
<path d="M387.9,103 Q387.9,101.4 389.4,101.4 Q390.9,101.4 390.9,103 L390.9,111.4 L387.9,111.4Z" fill="#8a8a8a" stroke="#1c1c1c" stroke-width="0.9" />
<path d="M389.4,104L389.4,110.9" fill="none" stroke="#2a2a2a" stroke-width="0.7" />
<ellipse cx="389.4" cy="102.6" rx="1.2" ry="0.9" fill="#ddd" stroke="#1c1c1c" stroke-width="0.5"/>
<path d="M373.5,113 Q373.5,111.4 375,111.4 Q376.5,111.4 376.5,113 L376.5,121.4 L373.5,121.4Z" fill="#8a8a8a" stroke="#1c1c1c" stroke-width="0.9" />
<path d="M375,114L375,120.9" fill="none" stroke="#2a2a2a" stroke-width="0.7" />
<ellipse cx="375" cy="112.6" rx="1.2" ry="0.9" fill="#ddd" stroke="#1c1c1c" stroke-width="0.5"/>
<path d="M367.1,117 Q367.1,115.4 368.6,115.4 Q370.1,115.4 370.1,117 L370.1,125.4 L367.1,125.4Z" fill="#8a8a8a" stroke="#1c1c1c" stroke-width="0.9" />
<path d="M368.6,118L368.6,124.9" fill="none" stroke="#2a2a2a" stroke-width="0.7" />
<ellipse cx="368.6" cy="116.6" rx="1.2" ry="0.9" fill="#ddd" stroke="#1c1c1c" stroke-width="0.5"/>
<path d="M352.9,127 Q352.9,125.4 354.4,125.4 Q355.9,125.4 355.9,127 L355.9,135.4 L352.9,135.4Z" fill="#8a8a8a" stroke="#1c1c1c" stroke-width="0.9" />
<path d="M354.4,128L354.4,134.9" fill="none" stroke="#2a2a2a" stroke-width="0.7" />
<ellipse cx="354.4" cy="126.6" rx="1.2" ry="0.9" fill="#ddd" stroke="#1c1c1c" stroke-width="0.5"/>
<path d="M394.0,173.4 L397.5,171.0 L411.0,178.4 L407.6,181.0 Z" fill="#fff" stroke="#1c1c1c" stroke-width="1.0" />
<path d="M394.0,173.4 L394.2,180.0 L407.8,187.8 L407.6,181.0" fill="#fff" stroke="#1c1c1c" stroke-width="1.0" />
<path d="M411.0,178.4 L411.2,185.2 L407.8,187.8" fill="#fff" stroke="#1c1c1c" stroke-width="1.0" />
<ellipse cx="397.4" cy="179.8" rx="1.2" ry="1.5" fill="#2a2a2a" stroke="#1c1c1c" stroke-width="0.6"/>
<ellipse cx="403.2" cy="183.2" rx="1.2" ry="1.5" fill="#2a2a2a" stroke="#1c1c1c" stroke-width="0.6"/>
<path d="M400.2,174.6 L403.4,172.6 M402.8,176.1 L406.0,174.1" fill="none" stroke="#1c1c1c" stroke-width="0.7" />
<path d="M406.0,187.0 L407.4,189.6 L409.0,187.4 Z" fill="#222" stroke="#1c1c1c" stroke-width="0.7" />
<path d="M424.0,160.8 L424.6,158.8 L462.6,132.9 A1.35,1.35 0 0 1 464.2,135.1 L426.1,161.0 Z" fill="#fff" stroke="#1c1c1c" stroke-width="1.0" />
<circle cx="463.0" cy="134.3" r="0.80" fill="none" stroke="#1c1c1c" stroke-width="0.5"/>
<path d="M461.7,135.1 L425.3,159.9" fill="none" stroke="#888" stroke-width="0.35" />
<path d="M428.4,165.9 L429.0,163.9 L467.0,138.1 A1.35,1.35 0 0 1 468.6,140.3 L430.5,166.1 Z" fill="#fff" stroke="#1c1c1c" stroke-width="1.0" />
<circle cx="467.4" cy="139.5" r="0.80" fill="none" stroke="#1c1c1c" stroke-width="0.5"/>
<path d="M466.1,140.3 L429.7,165.0" fill="none" stroke="#888" stroke-width="0.35" />
<path d="M348.6,175.6 L346.1,178.6 L305.5,206.1 A1.1,1.1 0 0 1 304.3,204.3 L344.8,176.8 Z" fill="#fff" stroke="#1c1c1c" stroke-width="1.0" />
<circle cx="305.3" cy="204.9" r="0.55" fill="none" stroke="#1c1c1c" stroke-width="0.5"/>
<path d="M306.6,204.1 L345.5,177.7" fill="none" stroke="#888" stroke-width="0.35" />
<circle cx="459.8" cy="115.7" r="1.4" fill="#fff" stroke="#1c1c1c" stroke-width="0.85"/>
<path d="M457.0,119.0 Q456.8,117.4 458.8,117.3 L462.0,117.2 Q463.6,118.2 463.4,120.8 Q462.8,122.6 460.9,123.0 L459.6,125.2 L459.2,122.8 Q457.0,122.0 457.0,119.0 Z" fill="#3a3a3a" stroke="#1c1c1c" stroke-width="0.5" />
<ellipse cx="461.5" cy="120.1" rx="1.0" ry="1.6" fill="#fff" transform="rotate(20 461.5 120.1)"/>
<path d="M457.6,119.8 L459.8,119.2" fill="none" stroke="#ccc" stroke-width="0.5" />
<circle cx="307.4" cy="183.7" r="1.4" fill="#fff" stroke="#1c1c1c" stroke-width="0.85"/>
<path d="M304.6,187.0 Q304.4,185.4 306.4,185.3 L309.6,185.2 Q311.2,186.2 311.0,188.8 Q310.4,190.6 308.5,191.0 L307.2,193.2 L306.8,190.8 Q304.6,190.0 304.6,187.0 Z" fill="#3a3a3a" stroke="#1c1c1c" stroke-width="0.5" />
<ellipse cx="309.1" cy="188.1" rx="1.0" ry="1.6" fill="#fff" transform="rotate(20 309.1 188.1)"/>
<path d="M305.2,187.8 L307.4,187.2" fill="none" stroke="#ccc" stroke-width="0.5" />
<path d="M460.6,123 L461.4,131.6" fill="none" stroke="#262626" stroke-width="0.95" stroke-dasharray="4 2" stroke-linecap="butt"/>
<path d="M308,191.2 L306.6,203.6" fill="none" stroke="#262626" stroke-width="0.95" stroke-dasharray="4 2" stroke-linecap="butt"/>
<path d="M405.4,177.2 L423.6,161.2" fill="none" stroke="#262626" stroke-width="0.95" stroke-dasharray="9 3" stroke-linecap="butt"/>
<path d="M411,180.4 L428.6,166.2" fill="none" stroke="#262626" stroke-width="0.95" stroke-dasharray="9 3" stroke-linecap="butt"/>
<path d="M358.6,169.6 L350.4,174.4" fill="none" stroke="#262626" stroke-width="0.95" stroke-dasharray="8 3" stroke-linecap="butt"/>
<path d="M397.2,157 L398.4,170.6" fill="none" stroke="#262626" stroke-width="0.95" stroke-dasharray="6 2" stroke-linecap="butt"/>
<path d="M388.6,163 L393.6,200 L450.6,228.4 L454,262.4" fill="none" stroke="#262626" stroke-width="0.95" stroke-dasharray="10 3" stroke-linecap="butt"/>
<path d="M739,141 L756.6,152.4 Q759.8,154.8 759.2,158 Q758.8,160.2 757.4,161.6 L741.6,174.4 L739.2,172.6 L739,167.2 L719.6,154.4 Z" fill="#fff" stroke="#1c1c1c" stroke-width="1.0" />
<path d="M719.6,154.4 L720,156.6 L739.2,170.6 L739.8,174.2 Q740.6,175.4 741.6,174.4 M739.2,170.6 L739,167.2" fill="none" stroke="#1c1c1c" stroke-width="0.85" />
<path d="M731.9,151.8 L735.4,149.5 L742.2,154.4 L744.6,152.8 L744.9,159.2 L737.6,159 L739.6,157.2 Z" fill="none" stroke="#1c1c1c" stroke-width="0.85" />
<path d="M732.8,150 L736.6,147.6 M726.4,155.6 L730.2,153.2" fill="none" stroke="#444" stroke-width="1.5" />
<path d="M731.6,149.6 L738,145.4 M725.2,155.2 L731.6,151" fill="none" stroke="#1c1c1c" stroke-width="0.6" />
<path d="M710,161.6 L729.4,174.4 Q732.6,176.8 732,180 Q731.6,182.2 730.2,183.6 L713.4,196.6 L711,195 L710.4,189 L690.4,175.6 Z" fill="#fff" stroke="#1c1c1c" stroke-width="1.0" />
<path d="M690.4,175.6 L690.8,177.8 L710.6,192.4 L711,196.4 M710.6,192.4 L710.4,189" fill="none" stroke="#1c1c1c" stroke-width="0.85" />
<path d="M708.6,195.6 Q708.4,198 710.2,197.8 Q711.6,197.4 711,195.6 Z" fill="#333" stroke="#1c1c1c" stroke-width="0.7" />
<path d="M705.2,171.4 L709,169 M697.6,176.6 L701.4,174.2" fill="none" stroke="#444" stroke-width="1.5" />
<path d="M704,171 L710.4,166.8 M696.4,176.2 L702.8,172" fill="none" stroke="#1c1c1c" stroke-width="0.6" />
<path d="M742,139.6 L767.6,126.6 L767.8,172.4 L720,207.6 L720,238" fill="none" stroke="#262626" stroke-width="0.95" stroke-dasharray="10 3" stroke-linecap="butt"/>
<path d="M714,164.4 L719.6,160.2" fill="none" stroke="#262626" stroke-width="0.95" stroke-dasharray="7 3" stroke-linecap="butt"/>
<path d="M690.4,178 L684.8,184 L685,266" fill="none" stroke="#262626" stroke-width="0.95" stroke-dasharray="10 3" stroke-linecap="butt"/>
<path d="M576,296 L676.4,220.8 L679,222.6 L679.2,267.4" fill="none" stroke="#262626" stroke-width="0.95" stroke-dasharray="10 3" stroke-linecap="butt"/>
<path d="M576,296 L568.6,302 L569,316" fill="none" stroke="#262626" stroke-width="0.95" stroke-dasharray="10 3" stroke-linecap="butt"/>
<path d="M674.4,270.6 L675.6,280.2 L680.4,283.2 L681.8,287 L689.4,291.2 L690.2,285.6 M689.4,291.2 L697.4,292.8 L702,294 L703,288.8" fill="#fff" stroke="#1c1c1c" stroke-width="0.85" />
<path d="M719.6,238.1 L742.4,255.2 L700.6,283 L674.2,270.4 Z" fill="#fff" stroke="#1c1c1c" stroke-width="0" />
<path d="M719.6,238.1 L674.2,270.4 M721,240.4 L677.2,271.4" fill="none" stroke="#1c1c1c" stroke-width="1.1" />
<path d="M722.4,243 L680.4,272.6" fill="none" stroke="#1c1c1c" stroke-width="0.7" />
<path d="M719.6,238.1 L737.9,250.2 Q743,253.4 742.6,257 Q742.2,260.4 740.6,261.4 L738.4,260 Q740,256.6 736,253 L719,242" fill="#fff" stroke="#1c1c1c" stroke-width="1.0" />
<path d="M721.4,240.6 L736.4,250.8 Q739.8,253.4 739.3,257" fill="none" stroke="#1c1c1c" stroke-width="0.7" />
<path d="M717.6,257.2 L726.6,263.4 M716.2,258.8 L725,264.8 M711.5,261.9 L719,267.1 M710,263.2 L717.6,268.4 M697.4,270.4 L706.8,276.6 M696,271.8 L705.2,277.8 M691.2,275.6 L701.1,281.3 M724.4,246.6 L733.4,252.6" fill="none" stroke="#1c1c1c" stroke-width="0.85" />
<path d="M721,246.6 L682.4,273.8 M726.6,263.4 L733.6,258.4 M706.8,276.6 L719,267.1" fill="none" stroke="#1c1c1c" stroke-width="0.75" />
<path d="M713.0,251.4 L713.0,261.4 L715.4000000000001,261.79999999999995 L715.4000000000001,251.8 Q714.2,250.4 713.0,251.4" fill="#fff" stroke="#1c1c1c" stroke-width="0.85" />
<path d="M692.8,264.6 L692.8,273.6 L695.2,274.0 L695.2,265.0 Q694,263.6 692.8,264.6" fill="#fff" stroke="#1c1c1c" stroke-width="0.85" />
<path d="M707.5999999999999,270.2 L707.5999999999999,274.8 L710.0,275.2 L710.0,270.59999999999997 Q708.8,269.2 707.5999999999999,270.2" fill="#fff" stroke="#1c1c1c" stroke-width="0.85" />
<path d="M728.1999999999999,256 L728.1999999999999,260.6 L730.6,261.0 L730.6,256.4 Q729.4,255 728.1999999999999,256" fill="#fff" stroke="#1c1c1c" stroke-width="0.85" />
<ellipse cx="714.2" cy="251" rx="1.5" ry="1.1" fill="#333" stroke="#1c1c1c" stroke-width="0.6"/>
<ellipse cx="694" cy="264.2" rx="1.5" ry="1.1" fill="#333" stroke="#1c1c1c" stroke-width="0.6"/>
<ellipse cx="708.2" cy="256.8" rx="2.4" ry="2.6" fill="#3a3a3a" stroke="#1c1c1c" stroke-width="0.8"/>
<ellipse cx="708.5" cy="257.0" rx="0.9" ry="1.0" fill="#bbb"/>
<ellipse cx="688" cy="269.4" rx="2.4" ry="2.6" fill="#3a3a3a" stroke="#1c1c1c" stroke-width="0.8"/>
<ellipse cx="688.3" cy="269.59999999999997" rx="0.9" ry="1.0" fill="#bbb"/>
<path d="M700.6,282.2 L736,258.2 Q739.8,258.8 738,262.9 L702.8,286.8 Z" fill="#fff" stroke="#1c1c1c" stroke-width="1.15" />
<path d="M734.4,259.4 Q736.8,261 736.6,263.8" fill="none" stroke="#1c1c1c" stroke-width="0.6" />
<path d="M734,256.6 L699.4,280" fill="none" stroke="#1c1c1c" stroke-width="0.7" />
<path d="M674.2,270.4 L700.6,282.2 M675.4,272.6 L698.2,284.4 Q702.4,286.6 703,289 L702,294" fill="none" stroke="#1c1c1c" stroke-width="0.9" />
<path d="M682.6,279.4L682.8,282.2" fill="none" stroke="#1c1c1c" stroke-width="0.6" />
<path d="M683.9,280.12L684.0999999999999,282.92" fill="none" stroke="#1c1c1c" stroke-width="0.6" />
<path d="M685.2,280.84L685.4,283.64" fill="none" stroke="#1c1c1c" stroke-width="0.6" />
<path d="M686.5,281.56L686.6999999999999,284.36" fill="none" stroke="#1c1c1c" stroke-width="0.6" />
<path d="M687.8000000000001,282.28L688.0,285.08" fill="none" stroke="#1c1c1c" stroke-width="0.6" />
<path d="M682,279 L689,282.8 M682.2,282.4 L689.2,286.2" fill="none" stroke="#1c1c1c" stroke-width="0.6" />
<path d="M729,224 L729.6,254" fill="none" stroke="#262626" stroke-width="0.95" stroke-dasharray="5 2" stroke-linecap="butt"/>
<path d="M715,234 L715.6,246" fill="none" stroke="#262626" stroke-width="0.95" stroke-dasharray="5 2" stroke-linecap="butt"/>
<path d="M709,238 L709.6,250" fill="none" stroke="#262626" stroke-width="0.95" stroke-dasharray="5 2" stroke-linecap="butt"/>
<path d="M695,248 L695.6,262" fill="none" stroke="#262626" stroke-width="0.95" stroke-dasharray="5 2" stroke-linecap="butt"/>
<path d="M727.5,214.4 Q727.5,212.8 729,212.8 Q730.5,212.8 730.5,214.4 L730.5,222.8 L727.5,222.8Z" fill="#8a8a8a" stroke="#1c1c1c" stroke-width="0.9" />
<path d="M729,215.4L729,222.3" fill="none" stroke="#2a2a2a" stroke-width="0.7" />
<ellipse cx="729" cy="214.0" rx="1.2" ry="0.9" fill="#ddd" stroke="#1c1c1c" stroke-width="0.5"/>
<path d="M713.5,224.4 Q713.5,222.8 715,222.8 Q716.5,222.8 716.5,224.4 L716.5,232.8 L713.5,232.8Z" fill="#8a8a8a" stroke="#1c1c1c" stroke-width="0.9" />
<path d="M715,225.4L715,232.3" fill="none" stroke="#2a2a2a" stroke-width="0.7" />
<ellipse cx="715" cy="224.0" rx="1.2" ry="0.9" fill="#ddd" stroke="#1c1c1c" stroke-width="0.5"/>
<path d="M707.5,228.4 Q707.5,226.8 709,226.8 Q710.5,226.8 710.5,228.4 L710.5,236.8 L707.5,236.8Z" fill="#8a8a8a" stroke="#1c1c1c" stroke-width="0.9" />
<path d="M709,229.4L709,236.3" fill="none" stroke="#2a2a2a" stroke-width="0.7" />
<ellipse cx="709" cy="228.0" rx="1.2" ry="0.9" fill="#ddd" stroke="#1c1c1c" stroke-width="0.5"/>
<path d="M693.5,238.4 Q693.5,236.8 695,236.8 Q696.5,236.8 696.5,238.4 L696.5,246.8 L693.5,246.8Z" fill="#8a8a8a" stroke="#1c1c1c" stroke-width="0.9" />
<path d="M695,239.4L695,246.3" fill="none" stroke="#2a2a2a" stroke-width="0.7" />
<ellipse cx="695" cy="238.0" rx="1.2" ry="0.9" fill="#ddd" stroke="#1c1c1c" stroke-width="0.5"/>
<path d="M716.0,294.4 L719.5,292.0 L733.0,299.4 L729.6,302.0 Z" fill="#fff" stroke="#1c1c1c" stroke-width="1.0" />
<path d="M716.0,294.4 L716.2,301.0 L729.8,308.8 L729.6,302.0" fill="#fff" stroke="#1c1c1c" stroke-width="1.0" />
<path d="M733.0,299.4 L733.2,306.2 L729.8,308.8" fill="#fff" stroke="#1c1c1c" stroke-width="1.0" />
<ellipse cx="719.4" cy="300.8" rx="1.2" ry="1.5" fill="#2a2a2a" stroke="#1c1c1c" stroke-width="0.6"/>
<ellipse cx="725.2" cy="304.2" rx="1.2" ry="1.5" fill="#2a2a2a" stroke="#1c1c1c" stroke-width="0.6"/>
<path d="M722.2,295.6 L725.4,293.6 M724.8,297.1 L728.0,295.1" fill="none" stroke="#1c1c1c" stroke-width="0.7" />
<path d="M728.0,308.0 L729.4,310.6 L731.0,308.4 Z" fill="#222" stroke="#1c1c1c" stroke-width="0.7" />
<path d="M759.7,274.1 L760.2,272.0 L797.4,245.9 A1.4,1.4 0 0 1 799.0,248.1 L761.8,274.3 Z" fill="#fff" stroke="#1c1c1c" stroke-width="1.0" />
<circle cx="797.8" cy="247.3" r="0.85" fill="none" stroke="#1c1c1c" stroke-width="0.5"/>
<path d="M796.6,248.2 L761.0,273.2" fill="none" stroke="#888" stroke-width="0.35" />
<path d="M762.8,280.7 L763.3,278.6 L800.9,252.5 A1.4,1.4 0 0 1 802.5,254.7 L764.9,280.9 Z" fill="#fff" stroke="#1c1c1c" stroke-width="1.0" />
<circle cx="801.3" cy="253.9" r="0.85" fill="none" stroke="#1c1c1c" stroke-width="0.5"/>
<path d="M800.1,254.7 L764.1,279.8" fill="none" stroke="#888" stroke-width="0.35" />
<path d="M669.4,281.8 L667.9,284.2 L631.1,310.8 A1.05,1.05 0 0 1 629.9,309.0 L666.7,282.5 Z" fill="#fff" stroke="#1c1c1c" stroke-width="1.0" />
<circle cx="630.9" cy="309.6" r="0.50" fill="none" stroke="#1c1c1c" stroke-width="0.5"/>
<path d="M632.1,308.7 L667.3,283.3" fill="none" stroke="#888" stroke-width="0.35" />
<path d="M670.6,281 L673.6,279.4" fill="none" stroke="#262626" stroke-width="0.95" stroke-dasharray="4 2" stroke-linecap="butt"/>
<circle cx="794.6" cy="229.7" r="1.4" fill="#fff" stroke="#1c1c1c" stroke-width="0.85"/>
<path d="M791.8,233.0 Q791.6,231.4 793.6,231.3 L796.8,231.2 Q798.4,232.2 798.2,234.8 Q797.6,236.6 795.7,237.0 L794.4,239.2 L794.0,236.8 Q791.8,236.0 791.8,233.0 Z" fill="#3a3a3a" stroke="#1c1c1c" stroke-width="0.5" />
<ellipse cx="796.3" cy="234.1" rx="1.0" ry="1.6" fill="#fff" transform="rotate(20 796.3 234.1)"/>
<path d="M792.4,233.8 L794.6,233.2" fill="none" stroke="#ccc" stroke-width="0.5" />
<circle cx="632.0" cy="288.3" r="1.4" fill="#fff" stroke="#1c1c1c" stroke-width="0.85"/>
<path d="M629.2,291.6 Q629.0,290.0 631.0,289.9 L634.2,289.8 Q635.8,290.8 635.6,293.4 Q635.0,295.2 633.1,295.6 L631.8,297.8 L631.4,295.4 Q629.2,294.6 629.2,291.6 Z" fill="#3a3a3a" stroke="#1c1c1c" stroke-width="0.5" />
<ellipse cx="633.7" cy="292.7" rx="1.0" ry="1.6" fill="#fff" transform="rotate(20 633.7 292.7)"/>
<path d="M629.8,292.4 L632.0,291.8" fill="none" stroke="#ccc" stroke-width="0.5" />
<path d="M795.4,237.4 L796.6,245.4" fill="none" stroke="#262626" stroke-width="0.95" stroke-dasharray="4 2" stroke-linecap="butt"/>
<path d="M632.6,296 L631.4,307.6" fill="none" stroke="#262626" stroke-width="0.95" stroke-dasharray="4 2" stroke-linecap="butt"/>
<path d="M727.4,298 L757.6,275.6" fill="none" stroke="#262626" stroke-width="0.95" stroke-dasharray="9 3" stroke-linecap="butt"/>
<path d="M733,301.8 L761,282" fill="none" stroke="#262626" stroke-width="0.95" stroke-dasharray="9 3" stroke-linecap="butt"/>
<path d="M720.4,281 L721,291.6" fill="none" stroke="#262626" stroke-width="0.95" stroke-dasharray="6 2" stroke-linecap="butt"/>
<path d="M555.2,250.6 L570.6,386 L581.4,486 L590,560" fill="none" stroke="#262626" stroke-width="0.95" stroke-dasharray="9 2.5" stroke-linecap="butt"/>
<path d="M552.4,446 L558.4,498" fill="none" stroke="#262626" stroke-width="0.95" stroke-dasharray="9 2.5" stroke-linecap="butt"/>
<path d="M542.8,467 L545.6,486" fill="none" stroke="#262626" stroke-width="0.95" stroke-dasharray="6 2.5" stroke-linecap="butt"/>
<path d="M568,482 L570,500" fill="none" stroke="#262626" stroke-width="0.95" stroke-dasharray="6 2.5" stroke-linecap="butt"/>
<path d="M521,418.5 C520.5,413 524,408.6 529.8,406.9 C532,406.2 534.5,406 536.5,406.6 L568.9,427.3 C572,429.6 573.6,434 573.3,438 C572.8,442.4 570,445.6 566,446.6 C562,447.6 558,446.8 554.7,445.1 L522.7,423.8 C521.5,422.6 521,420.6 521,418.5 Z" fill="#fff" stroke="#1c1c1c" stroke-width="1.0" />
<path d="M521.2,421 C521.4,423.4 522,425 523,426 L555,447.2 C558.6,449 563,449.4 567,448.2 C570.6,447 572.8,444 573.3,440.4" fill="none" stroke="#1c1c1c" stroke-width="0.8" />
<path d="M525.3,418.4 C524.6,413 527.6,408.8 532.4,407.4 C534.6,406.9 537,407.2 538.6,408.2 L566.2,428.7 C568.4,430.4 569.2,432.2 568.9,434.6 C568.4,437.4 567,438.6 565.3,439.4 C562.6,440.6 560,440.6 558.2,440 Z" fill="none" stroke="#1c1c1c" stroke-width="0.85" />
<path d="M526.4,416.6 C525.6,412.6 528,409.4 533.3,408.2 L564.4,428.4 C566.4,430 567,431.6 566.7,433 C566.2,435 565,436 563.4,436.6 C561.4,437.4 559.6,437.4 558.2,437.1 Z" fill="none" stroke="#1c1c1c" stroke-width="0.8" />
<path d="M550.2,427.4 L557.3,422.2" fill="none" stroke="#1c1c1c" stroke-width="0.9" />
<path d="M556.4,420.6 L568.6,428.6" fill="none" stroke="#1c1c1c" stroke-width="1.2" />
<path d="M535.6,414.2 L541.4,412.2 M540.4,413.4 C544,413 547.6,414.8 549.4,418.4 M543,415.4 Q546,415.4 547.4,417.8 M550.2,419.2 L553.8,421.6 L556.4,420.6 M536,415 C541,416 547.6,420 549.4,426.4" fill="none" stroke="#1c1c1c" stroke-width="0.8" />
<path d="M565.4,430.4 L565.6,432.4" fill="none" stroke="#1c1c1c" stroke-width="0.8" />
<path d="M540.1,494.4 L532.3,500.5 L532.8,502.3 L559.1,519.7 L568,512.9 L566.9,511.8 Z" fill="#fff" stroke="#1c1c1c" stroke-width="1.0" />
<path d="M532.3,500.5 L558.6,517.9 L566.9,511.8 M558.6,517.9 L559.1,519.7" fill="none" stroke="#1c1c1c" stroke-width="0.85" />
<path d="M533.2,502.4 L559.2,519.6" fill="none" stroke="#1c1c1c" stroke-width="1.3" />
<ellipse cx="548.9" cy="506.3" rx="1.5" ry="1.1" fill="#fff" stroke="#1c1c1c" stroke-width="0.7"/>
<path d="M565,474.2 L591.3,492.2 L591.4,493.6 L583.6,500 L582.8,505 L572.8,515.3 L569.6,514.9 L566.9,511.8 L540.1,494.4 L539.6,492.2 L550.3,483.4 L555.2,483 Z" fill="#fff" stroke="#1c1c1c" stroke-width="1.0" />
<path d="M591.3,492.2 L583.2,498.6 L582.4,503.4 L572.6,513.6 L569.8,513.2" fill="none" stroke="#1c1c1c" stroke-width="0.75" />
<ellipse cx="563" cy="480" rx="1.6" ry="1.1" fill="#fff" stroke="#1c1c1c" stroke-width="0.7"/>
<ellipse cx="582.5" cy="493.3" rx="1.6" ry="1.1" fill="#fff" stroke="#1c1c1c" stroke-width="0.7"/>
<path d="M550.8,491.4 L557.2,485.4 L570.8,495.2 L571,498.6 L564.6,505 L564.2,501.8 Z" fill="#fff" stroke="#1c1c1c" stroke-width="0.9" />
<path d="M557.2,485.4 L557.4,488.6 L567.4,495.8 L570.8,495.2 M557.4,488.6 L553.6,492.2 L553.8,494.4 M564.2,501.8 L567.4,498.6 L567.4,495.8 M553.8,494.4 L564.2,501.8 M550.8,491.4 L551,494.4 L564.6,505" fill="none" stroke="#1c1c1c" stroke-width="0.8" />
<path d="M558.6,492.6 L558.8,497 M559.6,498.6 L562.2,500.2" fill="none" stroke="#1c1c1c" stroke-width="0.8" />
<path d="M555.2,483 L558.4,484.8 L582.6,501.6 M550.3,483.4 L553.2,485.6 L546,491.6 L551,494.4" fill="none" stroke="#1c1c1c" stroke-width="0.75" />
<ellipse cx="547.9" cy="489.3" rx="3.2" ry="2.7" fill="#fff" stroke="#1c1c1c" stroke-width="1"/>
<ellipse cx="547.9" cy="489.3" rx="1.9" ry="1.6" fill="#666" stroke="#1c1c1c" stroke-width="0.8"/>
<ellipse cx="573.7" cy="506.3" rx="3.2" ry="2.7" fill="#fff" stroke="#1c1c1c" stroke-width="1"/>
<ellipse cx="573.7" cy="506.3" rx="1.9" ry="1.6" fill="#666" stroke="#1c1c1c" stroke-width="0.8"/>
<path d="M541.1,455.4 Q541.1,453.79999999999995 542.6,453.79999999999995 Q544.1,453.79999999999995 544.1,455.4 L544.1,466 L541.1,466Z" fill="#8a8a8a" stroke="#1c1c1c" stroke-width="0.9" />
<path d="M542.6,456.4L542.6,465.5" fill="none" stroke="#2a2a2a" stroke-width="0.7" />
<ellipse cx="542.6" cy="455.0" rx="1.2" ry="0.9" fill="#ddd" stroke="#1c1c1c" stroke-width="0.5"/>
<path d="M566.4,470.4 Q566.4,468.79999999999995 567.9,468.79999999999995 Q569.4,468.79999999999995 569.4,470.4 L569.4,481 L566.4,481Z" fill="#8a8a8a" stroke="#1c1c1c" stroke-width="0.9" />
<path d="M567.9,471.4L567.9,480.5" fill="none" stroke="#2a2a2a" stroke-width="0.7" />
<ellipse cx="567.9" cy="470.0" rx="1.2" ry="0.9" fill="#ddd" stroke="#1c1c1c" stroke-width="0.5"/>
<path d="M592.0,524.0 L591.4,523.1 L605.2,512.3 A1.1,1.1 0 0 1 606.6,514.1 L592.8,524.8 Z" fill="#fff" stroke="#1c1c1c" stroke-width="1.0" />
<circle cx="605.5" cy="513.5" r="0.55" fill="none" stroke="#1c1c1c" stroke-width="0.5"/>
<path d="M604.3,514.4 L592.1,523.9" fill="none" stroke="#888" stroke-width="0.35" />
<path d="M598.4,529.2 L597.8,528.3 L611.5,516.7 A1.1,1.1 0 0 1 612.9,518.3 L599.2,530.0 Z" fill="#fff" stroke="#1c1c1c" stroke-width="1.0" />
<circle cx="611.8" cy="517.8" r="0.55" fill="none" stroke="#1c1c1c" stroke-width="0.5"/>
<path d="M610.7,518.8 L598.5,529.1" fill="none" stroke="#888" stroke-width="0.35" />
<path d="M565.0,535.6 L568.5,533.2 L582.0,540.6 L578.6,543.2 Z" fill="#fff" stroke="#1c1c1c" stroke-width="1.0" />
<path d="M565.0,535.6 L565.2,542.2 L578.8,550.0 L578.6,543.2" fill="#fff" stroke="#1c1c1c" stroke-width="1.0" />
<path d="M582.0,540.6 L582.2,547.4 L578.8,550.0" fill="#fff" stroke="#1c1c1c" stroke-width="1.0" />
<ellipse cx="568.4" cy="542.0" rx="1.2" ry="1.5" fill="#2a2a2a" stroke="#1c1c1c" stroke-width="0.6"/>
<ellipse cx="574.2" cy="545.4" rx="1.2" ry="1.5" fill="#2a2a2a" stroke="#1c1c1c" stroke-width="0.6"/>
<path d="M571.2,536.8 L574.4,534.8 M573.8,538.3 L577.0,536.3" fill="none" stroke="#1c1c1c" stroke-width="0.7" />
<path d="M577.0,549.2 L578.4,551.8 L580.0,549.6 Z" fill="#222" stroke="#1c1c1c" stroke-width="0.7" />
<path d="M576,539 L591.4,525.6" fill="none" stroke="#262626" stroke-width="0.95" stroke-dasharray="7 2.5" stroke-linecap="butt"/>
<path d="M582,543 L597.6,530" fill="none" stroke="#262626" stroke-width="0.95" stroke-dasharray="7 2.5" stroke-linecap="butt"/>
<path d="M566,512 L568.4,532" fill="none" stroke="#262626" stroke-width="0.95" stroke-dasharray="7 2.5" stroke-linecap="butt"/>
<path d="M587,567.6 Q586.8,565.4 589,564.8 L589.3,562 Q590.6,560.8 592,562 L592.4,564.8 Q594.8,565.6 594.8,568 Q594.4,570.6 590.9,570.8 Q587.4,570.6 587,567.6 Z" fill="#fff" stroke="#1c1c1c" stroke-width="0.9" />
<path d="M587.2,568 Q590.8,571.4 594.6,568.2" fill="none" stroke="#1c1c1c" stroke-width="1.4" />
<path d="M588.8,565.6 Q590.8,567.2 592.8,565.6 M589.3,562.6 Q590.6,563.6 592,562.6" fill="none" stroke="#1c1c1c" stroke-width="0.7" />
</svg>
</body></html>
